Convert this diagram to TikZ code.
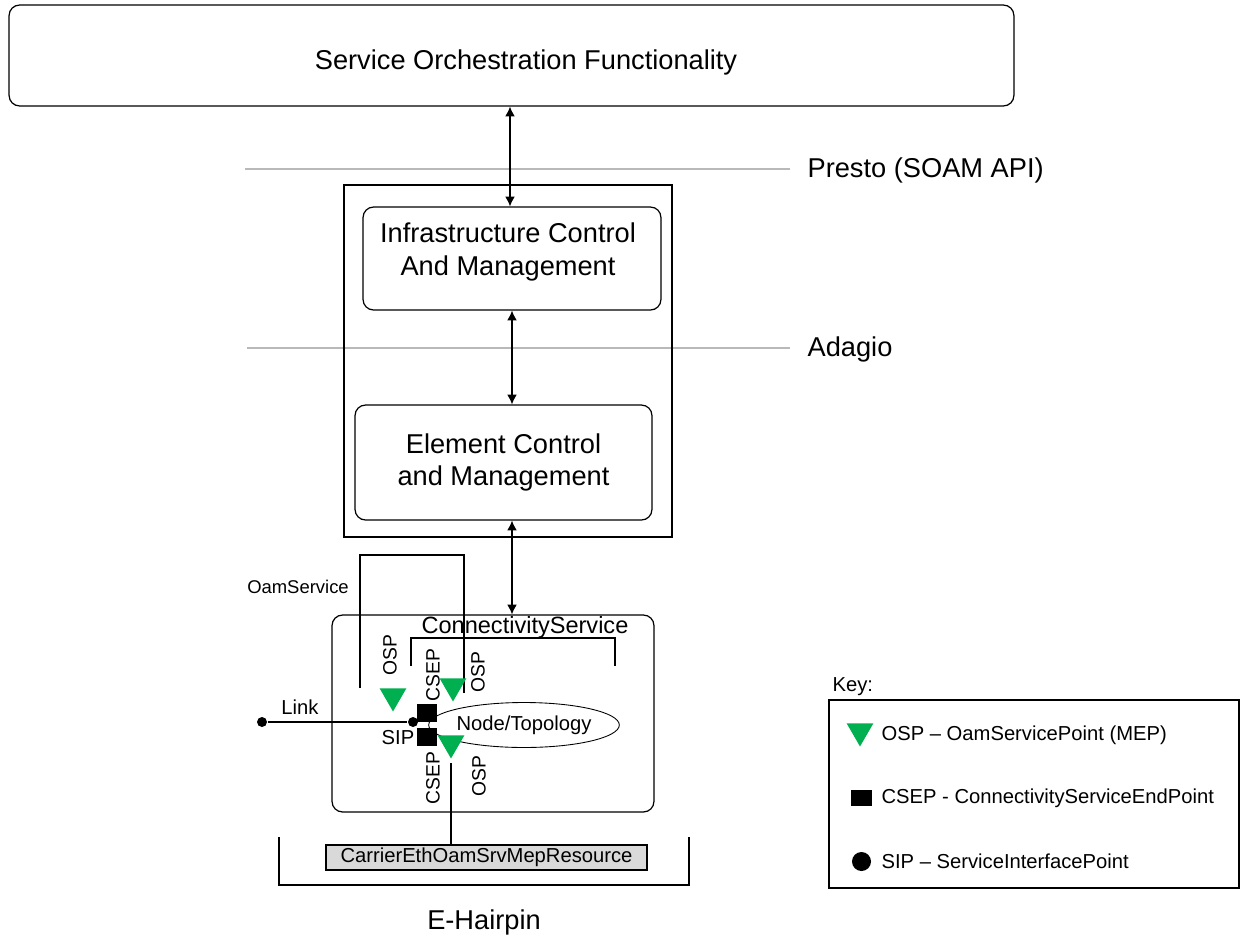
\documentclass[tikz,border=0pt]{standalone}
\usepackage{fontspec}
\setmainfont{Liberation Sans}
\usetikzlibrary{arrows.meta,shapes.geometric}
\definecolor{ospgreen}{RGB}{0,176,80}

\begin{document}
\begin{tikzpicture}[x=0.02cm,y=-0.02cm,>={Latex[length=5.5pt,width=5.5pt]},line width=0.7pt,
  big/.style={font=\fontsize{15.5}{18.5}\selectfont},
  medium/.style={font=\fontsize{13.4}{16}\selectfont,inner sep=0pt},
  small/.style={font=\fontsize{11.5}{13.5}\selectfont,inner sep=0pt},
  round box/.style={draw,rounded corners=6pt,align=center,inner sep=0pt,big},
  osp/.style={regular polygon,regular polygon sides=3,shape border rotate=180,
    fill=ospgreen,minimum size=0.62cm,inner sep=0pt},
  csep/.style={rectangle,fill=black,minimum width=0.4cm,minimum height=0.36cm,inner sep=0pt},
  sip/.style={circle,fill=black,minimum size=0.2cm,inner sep=0pt},
  vlabel/.style={font=\fontsize{11}{13}\selectfont,inner sep=0pt,rotate=90}]

  \useasboundingbox (0,0) rectangle (1241,940);

  % reference points
  \draw[gray!55] (245,169) -- (790,169);
  \draw[gray!55] (247,348) -- (790,348);
  \node[big,inner sep=0pt,anchor=west] (presto) at (807,170) {Presto (SOAM API)};
  \node[big,inner sep=0pt,anchor=west] (adagio) at (807,349) {Adagio};

  \node[round box,minimum width=20.1cm,minimum height=2.02cm] (sof) at (511.5,55.5) {};
  \node[big,inner sep=0pt] (soflab) at (526,62) {Service Orchestration Functionality};
  \node[draw,minimum width=6.56cm,minimum height=7.04cm] (icm) at (508,361) {};
  \node[round box,minimum width=5.96cm,minimum height=2.06cm] (infra) at (512,258.5) {};
  \node[big,align=center,inner sep=0pt] (infralab) at (508,252)
    {Infrastructure Control\\And Management};
  \node[round box,minimum width=5.94cm,minimum height=2.3cm] (elem) at (503.5,462.5)
    {Element Control\\and Management};
  \node[draw,rounded corners=6pt,minimum width=6.44cm,minimum height=3.94cm] (hair) at (493,713.5) {};

  \coordinate (a1) at (510,0);
  \coordinate (a2) at (512,0);
  \path (sof.south -| a1) edge[<->] (infra.north -| a1)
    (infra.south -| a2) edge[<->] (elem.north -| a2)
    (elem.south -| a2) edge[<->] (hair.north -| a2);

  % oam service and connectivity service
  \node[small,font=\fontsize{10.5}{12}\selectfont] (oamlab) at (298,587) {OamService};
  \draw (360,688) |- (464,555) -- (464,693);
  \node[medium] (cslab) at (525,627) {ConnectivityService};
  \draw (411,666) |- (615,638) -- (615,666);

  \node[draw,ellipse,minimum width=3.62cm,minimum height=0.9cm,inner sep=0pt,small,
    line width=0.5pt] (topo) at (524,725) {Node/Topology};

  \node[vlabel] at (390,655) {OSP};
  \node[vlabel] at (433,675) {CSEP};
  \node[vlabel] at (478,672) {OSP};
  \node[vlabel] at (433,778) {CSEP};
  \node[vlabel] at (479,776) {OSP};

  \node[csep] (csep1) at (427,713) {};
  \node[csep] (csep2) at (427,736.5) {};
  \node[osp] (osp1) at (393,696) {};
  \node[osp] (osp2) at (453,686) {};
  \node[osp] (osp3) at (451,743) {};

  \node[sip] (sipa) at (262,722) {};
  \node[sip] (sipb) at (413,722) {};
  \draw (sipa) -- (sipb);
  \node[small] (linklab) at (300,707) {Link};
  \node[small] (siplab) at (398,738) {SIP};

  \node[draw,fill=gray!30,minimum width=6.42cm,minimum height=0.5cm,inner sep=0pt,small]
    (carrier) at (486.5,857.5) {CarrierEthOamSrvMepResource};
  \draw[shorten <=2pt] (osp3.corner 1) -- (osp3.corner 1 |- carrier.north);

  \draw (279,837) |- (689,885) -- (689,837);
  \node[big] (hairlab) at (484,922) {E-Hairpin};

  % key
  \node[small,anchor=west] (keylab) at (832,687) {Key:};
  \node[draw,minimum width=8.2cm,minimum height=3.76cm] (key) at (1034,794) {};
  \node[osp] (kosp) at (860,731) {};
  \node[csep,minimum width=0.42cm,minimum height=0.32cm] (kcsep) at (861.5,798) {};
  \node[sip,minimum size=0.38cm] (ksip) at (861.5,861.5) {};
  \node[small,anchor=west] at (881,735) {OSP – OamServicePoint (MEP)};
  \node[small,anchor=west] at (881,798) {CSEP - ConnectivityServiceEndPoint};
  \node[small,anchor=west] at (881,861) {SIP – ServiceInterfacePoint};
\end{tikzpicture}
\end{document}
